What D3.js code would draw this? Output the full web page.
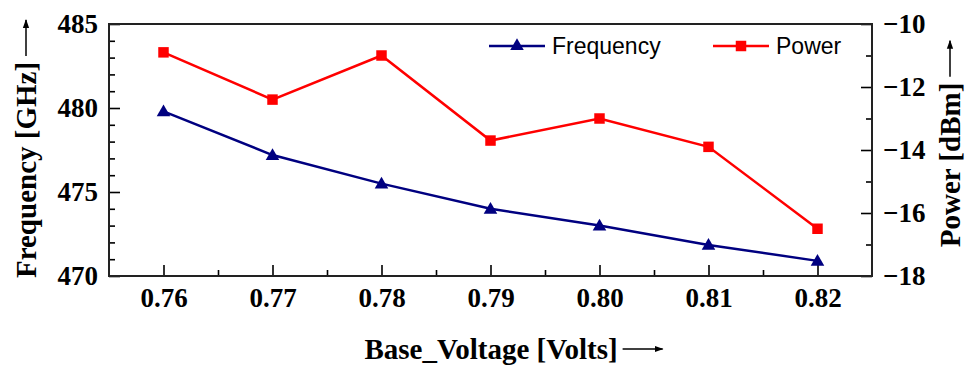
<!DOCTYPE html>
<html>
<head>
<meta charset="utf-8">
<script src="https://cdn.jsdelivr.net/npm/d3@7"></script>
<style>
  body { margin: 0; background: #fff; }
  .axis-title { font-family: "Liberation Serif", "Times New Roman", serif; font-weight: bold; font-size: 29px; fill: #000; }
  .legend text { font-family: "Liberation Sans", Arial, sans-serif; font-size: 23px; fill: #000; }
</style>
</head>
<body>
<svg id="chart"></svg>
<script>
/* Data */
const voltages = [0.76, 0.77, 0.78, 0.79, 0.80, 0.81, 0.82];
const frequency = [479.8, 477.2, 475.5, 474.0, 473.0, 471.85, 470.9];
const power = [-10.9, -12.4, -11.0, -13.7, -13.0, -13.9, -16.5];
const freqTicks = [470, 475, 480, 485];
const powerTicks = [-18, -16, -14, -12, -10];

/* Size */
const W = 965, H = 365;
const margin = { top: 24, right: 93, bottom: 89, left: 109 };
const w = W - margin.left - margin.right;
const h = H - margin.top - margin.bottom;

const svg = d3.select("#chart").attr("width", W).attr("height", H);
const g = svg.append("g").attr("transform", `translate(${margin.left},${margin.top})`);

/* Scales */
const x = d3.scaleLinear().domain([0.755, 0.825]).range([0, w]);
const yF = d3.scaleLinear().domain([470, 485]).range([h, 0]);
const yP = d3.scaleLinear().domain([-18, -10]).range([h, 0]);

/* Minor ticks */
g.append("g").attr("transform", `translate(0,${h})`)
  .call(d3.axisBottom(x).tickValues(d3.range(0.765, 0.82, 0.01)).tickSize(-6).tickFormat(""))
  .call(a => a.select(".domain").remove());
g.append("g")
  .call(d3.axisLeft(yF).tickValues(d3.range(470, 486, 1).filter(v => v % 5)).tickSize(-6).tickFormat(""))
  .call(a => a.select(".domain").remove());
g.append("g").attr("transform", `translate(${w},0)`)
  .call(d3.axisRight(yP).tickValues([-17, -15, -13, -11]).tickSize(-6).tickFormat(""))
  .call(a => a.select(".domain").remove());

/* Major axes */
const serif = a => a.attr("font-family", "'Liberation Serif', 'Times New Roman', serif")
  .attr("font-size", 27).attr("font-weight", "bold");
g.append("g").attr("transform", `translate(0,${h})`)
  .call(d3.axisBottom(x).tickValues(voltages).tickSize(-11).tickPadding(12).tickFormat(d3.format(".2f")))
  .call(serif)
  .call(a => a.select(".domain").remove());
g.append("g")
  .call(d3.axisLeft(yF).tickValues(freqTicks).tickSize(-11).tickPadding(11))
  .call(serif)
  .call(a => a.select(".domain").remove());
g.append("g").attr("transform", `translate(${w},0)`)
  .call(d3.axisRight(yP).tickValues(powerTicks).tickSize(-11).tickPadding(11))
  .call(serif)
  .call(a => a.select(".domain").remove());

g.selectAll(".tick line").attr("stroke", "#000").attr("stroke-width", 1.6);
g.selectAll(".tick text").attr("fill", "#000");

/* Frame */
g.append("rect").attr("width", w).attr("height", h)
  .attr("fill", "none").attr("stroke", "#222").attr("stroke-width", 2);

/* Series */
const fColor = "#000080", pColor = "#ff0000";
const tri = d3.symbol().type(d3.symbolTriangle).size(80);
const sq = d3.symbol().type(d3.symbolSquare).size(110);

g.append("path").datum(voltages.map((v, i) => [v, power[i]]))
  .attr("fill", "none").attr("stroke", pColor).attr("stroke-width", 2.5)
  .attr("d", d3.line().x(d => x(d[0])).y(d => yP(d[1])));
g.append("path").datum(voltages.map((v, i) => [v, frequency[i]]))
  .attr("fill", "none").attr("stroke", fColor).attr("stroke-width", 2.5)
  .attr("d", d3.line().x(d => x(d[0])).y(d => yF(d[1])));

g.selectAll(".pmark").data(voltages).join("path")
  .attr("transform", (d, i) => `translate(${x(d)},${yP(power[i])})`)
  .attr("d", sq).attr("fill", pColor);
g.selectAll(".fmark").data(voltages).join("path")
  .attr("transform", (d, i) => `translate(${x(d)},${yF(frequency[i]) + 1})`)
  .attr("d", tri).attr("fill", fColor);

/* Legend */
const legend = svg.append("g").attr("class", "legend");
[[489, fColor, tri, "Frequency"], [713, pColor, sq, "Power"]].forEach(([lx, c, sym, label]) => {
  legend.append("line").attr("x1", lx).attr("x2", lx + 56).attr("y1", 46).attr("y2", 46)
    .attr("stroke", c).attr("stroke-width", 2.5);
  legend.append("path").attr("transform", `translate(${lx + 28},46)`).attr("d", sym).attr("fill", c);
  legend.append("text").attr("x", lx + 63).attr("y", 46).attr("dy", "0.35em").text(label);
});

/* Arrowhead */
svg.append("defs").append("marker").attr("id", "arr")
  .attr("viewBox", "0 0 10 10").attr("refX", 9).attr("refY", 5)
  .attr("markerWidth", 9).attr("markerHeight", 9).attr("markerUnits", "userSpaceOnUse")
  .attr("orient", "auto")
  .append("path").attr("d", "M0,1.5 L10,5 L0,8.5 Z").attr("fill", "#000");

function titleWithArrow(tx, ty, rot, label, gap, len) {
  const tg = svg.append("g").attr("transform", `translate(${tx},${ty}) rotate(${rot})`);
  const t = tg.append("text").attr("class", "axis-title").attr("text-anchor", "middle")
    .attr("dy", "0.35em").text(label);
  const tw = t.node().getComputedTextLength();
  tg.append("line").attr("x1", tw / 2 + gap).attr("x2", tw / 2 + gap + len)
    .attr("y1", 0).attr("y2", 0)
    .attr("stroke", "#000").attr("stroke-width", 1.5).attr("marker-end", "url(#arr)");
}

titleWithArrow(491, 349, 0, "Base_Voltage [Volts]", 5, 40);
titleWithArrow(26, 170, -90, "Frequency [GHz]", 6, 36);
titleWithArrow(950, 165, -90, "Power [dBm]", 6, 36);
</script>
</body>
</html>
